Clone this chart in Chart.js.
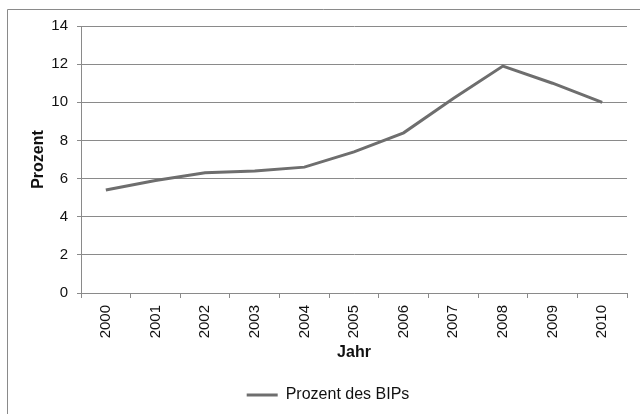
<!DOCTYPE html>
<html>
<head>
<meta charset="utf-8">
<script src="https://cdn.jsdelivr.net/npm/chart.js@4/dist/chart.umd.min.js"></script>
<style>
  html, body { margin: 0; padding: 0; background: #fff; }
  #wrap { width: 640px; height: 414px; }
</style>
</head>
<body>
<div id="wrap"><canvas id="c" width="640" height="414"></canvas></div>
<script>
// Jahre und Anteil am BIP in Prozent
const years = ['2000', '2001', '2002', '2003', '2004', '2005', '2006', '2007', '2008', '2009', '2010'];
const percentOfGdp = [5.4, 5.9, 6.3, 6.4, 6.6, 7.4, 8.4, 10.2, 11.9, 11.0, 10.0];
const seriesName = 'Prozent des BIPs';
const xTitle = 'Jahr';
const yTitle = 'Prozent';

const FONT = '"Liberation Sans", Arial, sans-serif';
const GRID = '#8a8a8a';
const LINE = '#6e6e6e';
const TEXT = '#111111';

// Rahmen oben und links um das Diagramm
const framePlugin = {
  id: 'frame',
  beforeDraw(chart) {
    const ctx = chart.ctx;
    ctx.save();
    ctx.fillStyle = '#ffffff';
    ctx.fillRect(0, 0, chart.width, chart.height);
    ctx.strokeStyle = GRID;
    ctx.lineWidth = 1;
    ctx.beginPath();
    ctx.moveTo(7.5, chart.height);
    ctx.lineTo(7.5, 9.5);
    ctx.lineTo(chart.width, 9.5);
    ctx.stroke();
    ctx.restore();
  }
};

new Chart(document.getElementById('c'), {
  type: 'line',
  data: {
    labels: years,
    datasets: [{
      label: seriesName,
      data: percentOfGdp,
      borderColor: LINE,
      backgroundColor: LINE,
      borderWidth: 3,
      pointRadius: 0,
      tension: 0,
      fill: false
    }]
  },
  options: {
    responsive: false,
    animation: false,
    devicePixelRatio: 1,
    layout: { padding: { left: 29, right: 13, top: 26, bottom: 1 } },
    plugins: {
      tooltip: { enabled: false },
      legend: {
        position: 'bottom',
        labels: {
          font: { family: FONT, size: 16 },
          color: TEXT,
          boxWidth: 31,
          boxHeight: 3,
          padding: 22,
          generateLabels(chart) {
            return chart.data.datasets.map((ds, i) => ({
              text: ds.label,
              fillStyle: LINE,
              strokeStyle: LINE,
              lineWidth: 0,
              datasetIndex: i,
              fontColor: TEXT
            }));
          }
        }
      }
    },
    scales: {
      x: {
        offset: true,
        grid: {
          offset: true,
          drawOnChartArea: false,
          drawTicks: true,
          tickLength: 5,
          color: GRID
        },
        border: { display: true, color: GRID, width: 1 },
        ticks: {
          autoSkip: false,
          minRotation: 90,
          maxRotation: 90,
          padding: 7,
          color: TEXT,
          font: { family: FONT, size: 15 }
        },
        title: {
          display: true,
          text: xTitle,
          color: TEXT,
          font: { family: FONT, size: 16, weight: 'bold' },
          padding: { top: 0, bottom: 3 }
        },
        afterFit(scale) { scale.height = 72; }
      },
      y: {
        min: 0,
        max: 14,
        grid: {
          color: GRID,
          tickLength: 4,
          lineWidth: 1
        },
        border: { display: true, color: GRID, width: 1 },
        ticks: {
          stepSize: 2,
          padding: 9,
          color: TEXT,
          font: { family: FONT, size: 15 }
        },
        title: {
          display: true,
          text: yTitle,
          color: TEXT,
          font: { family: FONT, size: 16, weight: 'bold' },
          padding: { top: 0, bottom: 0 }
        },
        afterFit(scale) { scale.width = 52; }
      }
    }
  },
  plugins: [framePlugin]
});
</script>
</body>
</html>
